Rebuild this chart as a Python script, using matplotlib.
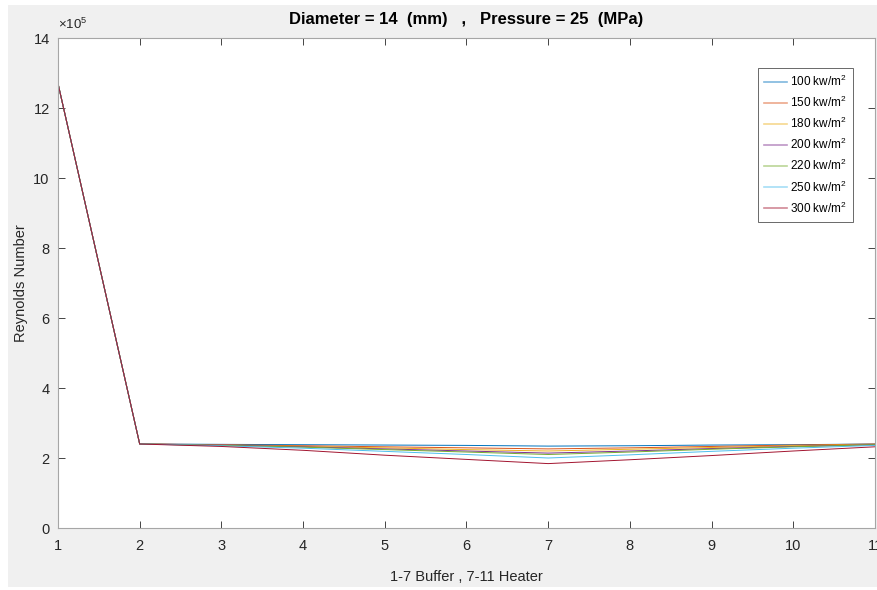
import matplotlib
matplotlib.use("Agg")
import matplotlib.pyplot as plt
from matplotlib.patches import Rectangle
from matplotlib.ticker import FuncFormatter

plt.rcParams['font.family'] = ['Liberation Sans', 'DejaVu Sans']
plt.rcParams['mathtext.fontset'] = 'custom'
plt.rcParams['mathtext.rm'] = 'Liberation Sans'

# positions along the channel (1-7 buffer, 7-11 heater)
positions = [1, 2, 3, 4, 5, 6, 7, 8, 9, 10, 11]

heat_flux_labels = ['100 kw/m$^2$', '150 kw/m$^2$', '180 kw/m$^2$', '200 kw/m$^2$',
                    '220 kw/m$^2$', '250 kw/m$^2$', '300 kw/m$^2$']

# Reynolds number for each heat flux
re_100 = [12.7e5, 2.40e5, 2.39e5, 2.38e5, 2.37e5, 2.36e5, 2.34e5, 2.35e5, 2.37e5, 2.38e5, 2.40e5]
re_150 = [12.7e5, 2.40e5, 2.38e5, 2.35e5, 2.32e5, 2.29e5, 2.26e5, 2.29e5, 2.33e5, 2.37e5, 2.40e5]
re_180 = [12.7e5, 2.40e5, 2.37e5, 2.33e5, 2.29e5, 2.24e5, 2.20e5, 2.25e5, 2.30e5, 2.35e5, 2.39e5]
re_200 = [12.7e5, 2.40e5, 2.37e5, 2.32e5, 2.26e5, 2.20e5, 2.14e5, 2.20e5, 2.27e5, 2.33e5, 2.38e5]
re_220 = [12.7e5, 2.40e5, 2.36e5, 2.31e5, 2.24e5, 2.17e5, 2.10e5, 2.17e5, 2.25e5, 2.32e5, 2.38e5]
re_250 = [12.7e5, 2.40e5, 2.35e5, 2.28e5, 2.19e5, 2.10e5, 2.00e5, 2.09e5, 2.19e5, 2.28e5, 2.36e5]
re_300 = [12.7e5, 2.40e5, 2.33e5, 2.22e5, 2.08e5, 1.96e5, 1.84e5, 1.95e5, 2.07e5, 2.20e5, 2.32e5]

series = [re_100, re_150, re_180, re_200, re_220, re_250, re_300]
colors = ['#0072BD', '#D95319', '#EDB120', '#7E2F8E', '#77AC30', '#4DBEEE', '#A2142F']

fig = plt.figure(figsize=(8.78, 5.9), dpi=100, facecolor='white')
fig.patches.append(Rectangle((8 / 878, 3 / 590), 869 / 878, 582 / 590,
                             transform=fig.transFigure, facecolor='#f0f0f0',
                             edgecolor='none', zorder=-10))

ax = fig.add_axes([58 / 878, 62 / 590, 817 / 878, 490 / 590])
ax.set_facecolor('white')

for vals, lab, col in zip(series, heat_flux_labels, colors):
    ax.plot(positions, vals, color=col, linewidth=0.7, label=lab)

ax.set_xlim(1, 11)
ax.set_ylim(0, 14e5)
ax.set_xticks(positions)
ax.set_yticks([i * 2e5 for i in range(8)])
ax.yaxis.set_major_formatter(FuncFormatter(lambda v, p: f"{v / 1e5:g}"))
ax.tick_params(direction='in', top=True, right=True, length=5, width=0.6,
               colors='#262626', labelsize=10.5)
ax.tick_params(axis='x', pad=8)
ax.tick_params(axis='y', pad=6)
for s in ax.spines.values():
    s.set_color('#a6a6a6')
    s.set_linewidth(0.8)

ax.text(0.0, 1.012, r'$\times$10$^5$', transform=ax.transAxes, fontsize=9.5,
        color='#262626', ha='left', va='bottom')

ax.set_title('Diameter = 14  (mm)   ,   Pressure = 25  (MPa)', fontsize=12,
             fontweight='bold', pad=10, color='black')
ax.set_ylabel('Reynolds Number', fontsize=10.5, color='#262626', labelpad=4)
ax.set_xlabel('1-7 Buffer , 7-11 Heater', fontsize=10.5, color='#262626', labelpad=12)

leg = ax.legend(loc='upper right', bbox_to_anchor=(0.973, 0.939), borderaxespad=0,
                fontsize=8.5, handlelength=2.0, handletextpad=0.25, labelspacing=0.5,
                frameon=True, fancybox=False, borderpad=0.5)
leg.get_frame().set_edgecolor('#262626')
leg.get_frame().set_linewidth(0.6)
for line in leg.get_lines():
    line.set_linewidth(1.2)
    line.set_alpha(0.5)

fig.savefig('out.png', dpi=100, facecolor=fig.get_facecolor())
